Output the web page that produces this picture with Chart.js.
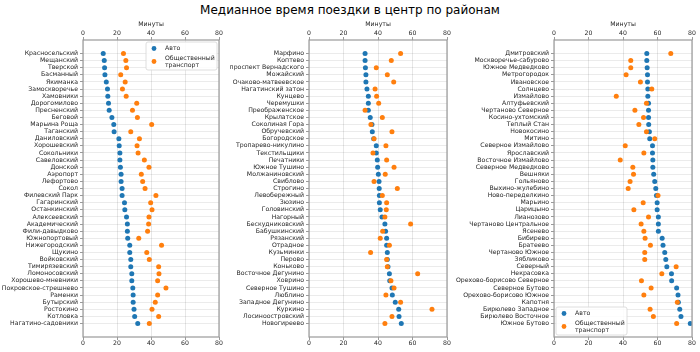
<!DOCTYPE html>
<html lang="ru">
<head>
<meta charset="UTF-8">
<title>Медианное время поездки в центр по районам</title>
<style>
    body { margin: 0; background: #fff; }
    #wrap { position: relative; width: 700px; height: 352px; font-family: "DejaVu Sans", sans-serif; }
    #title { position: absolute; left: 0; top: 3px; width: 700px; text-align: center; font-size: 12px; line-height: 14px; color: #000; }
    canvas { position: absolute; top: 0; }
</style>
<script src="https://cdn.jsdelivr.net/npm/chart.js"></script>
</head>
<body>
<div id="wrap">
    <div id="title">Медианное время поездки в центр по районам</div>
    <canvas id="c1" width="228" height="352" style="left:0px"></canvas>
    <canvas id="c2" width="230" height="352" style="left:226px"></canvas>
    <canvas id="c3" width="250" height="352" style="left:450px"></canvas>
</div>
<script>
// left panel
const names1 = ['Красносельский','Мещанский','Тверской','Басманный','Якиманка','Замоскворечье','Хамовники','Дорогомилово','Пресненский','Беговой','Марьина Роща','Таганский','Даниловский','Хорошевский','Сокольники','Савеловский','Донской','Аэропорт','Лефортово','Сокол','Филевский Парк','Гагаринский','Останкинский','Алексеевский','Академический','Фили-давыдково','Южнопортовый','Нижегородский','Щукино','Войковский','Тимирязевский','Ломоносовский','Хорошево-мневники','Покровское-стрешнево','Раменки','Бутырский','Ростокино','Котловка','Нагатино-садовники'];
const car1 = [11.9,12.5,12.7,12.9,13.7,14.4,14.6,15.0,15.4,17.0,18.1,18.3,21.1,21.3,21.7,21.7,22.0,22.4,22.4,23.0,23.0,24.4,24.6,25.6,26.1,26.1,26.3,27.5,27.5,28.1,28.1,28.7,28.7,29.3,29.5,29.5,30.0,30.4,32.2];
const transit1 = [23.8,25.2,25.6,22.2,24.8,23.2,25.4,31.6,29.1,32.0,40.4,28.1,33.2,31.8,32.4,36.1,38.8,34.3,35.1,36.5,42.9,39.8,40.6,38.8,38.6,38.0,32.8,46.2,37.5,39.0,44.5,44.7,43.9,48.8,43.9,42.5,40.6,44.5,39.0];

// middle panel
const names2 = ['Марфино','Коптево','проспект Вернадского','Можайский','Очаково-матвеевское','Нагатинский затон','Кунцево','Черемушки','Преображенское','Крылатское','Соколиная Гора','Обручевский','Богородское','Тропарево-никулино','Текстильщики','Печатники','Южное Тушино','Молжаниновский','Свиблово','Строгино','Левобережный','Зюзино','Головинский','Нагорный','Бескудниковский','Бабушкинский','Рязанский','Отрадное','Кузьминки','Перово','Коньково','Восточное Дегунино','Ховрино','Северное Тушино','Люблино','Западное Дегунино','Куркино','Лосиноостровский','Новогиреево'];
const car2 = [32.5,32.5,32.7,33.0,33.0,33.6,34.4,34.4,34.4,35.5,36.5,36.7,37.5,39.0,39.0,39.6,39.8,40.2,40.6,40.7,40.8,40.8,41.3,42.3,44.0,44.4,45.0,45.0,45.4,45.4,45.8,46.6,46.8,48.1,48.3,50.0,52.0,52.2,53.5];
const transit2 = [53.1,47.7,39.0,45.4,49.1,38.3,39.2,40.4,32.5,42.5,35.9,48.1,37.7,44.6,37.1,45.0,49.3,44.2,37.7,51.2,42.5,45.0,44.8,44.0,58.9,42.7,41.3,46.6,35.7,45.0,45.4,63.0,47.5,49.3,44.6,53.1,71.3,48.1,44.0];

// right panel
const names3 = ['Дмитровский','Москворечье-сабурово','Южное Медведково','Метрогородок','Ивановское','Солнцево','Измайлово','Алтуфьевский','Чертаново Северное','Косино-ухтомский','Теплый Стан','Новокосино','Митино','Северное Измайлово','Ярославский','Восточное Измайлово','Северное Медведково','Вешняки','Гольяново','Выхино-жулебино','Ново-переделкино','Марьино','Царицыно','Лианозово','Чертаново Центральное','Ясенево','Бибирево','Братеево','Чертаново Южное','Зябликово','Северный','Некрасовка','Орехово-борисово Северное','Северное Бутово','Орехово-борисово Южное','Капотня','Бирюлево Западное','Бирюлево Восточное','Южное Бутово'];
const car3 = [53.8,53.8,54.0,54.2,54.2,54.4,54.4,54.8,54.8,54.8,54.9,55.3,55.5,57.1,57.1,57.3,57.3,57.8,58.4,59.0,59.4,59.8,59.8,60.5,60.5,60.5,62.7,63.2,64.2,64.8,65.4,68.1,68.2,71.1,71.9,72.1,72.9,73.6,79.0];
const transit3 = [67.7,44.5,44.5,41.8,50.1,56.7,36.1,53.6,46.9,51.9,49.2,53.6,58.4,41.3,52.1,38.4,45.7,46.1,44.1,43.0,60.3,51.7,46.3,54.8,50.5,52.1,52.8,55.9,52.6,52.6,70.8,62.5,50.7,56.3,52.1,71.5,55.7,57.6,71.1];

const seriesNames = ['Авто', 'Общественный транспорт'];
const xTicks = [0, 20, 40, 60, 80];
const xTitle = 'Минуты';

const BLUE = '#1f77b4', ORANGE = '#ff7f0e';
const SPINE = '#9a9a9a';

Chart.defaults.font.family = '"DejaVu Sans", sans-serif';
Chart.defaults.font.size = 6.2;
Chart.defaults.color = '#262626';

// frame around the plot area + legend drawn inside it
const framePlugin = {
    id: 'frame',
    afterDatasetsDraw(chart, args, opts) {
        const a = chart.chartArea, ctx = chart.ctx;
        ctx.save();
        ctx.strokeStyle = SPINE;
        ctx.lineWidth = 1.2;
        ctx.strokeRect(a.left, a.top, a.right - a.left, a.bottom - a.top);
        ctx.restore();
    },
    afterDraw(chart, args, opts) {
        if (!opts.legend) return;
        const a = chart.chartArea, ctx = chart.ctx;
        const w = 71, h = 28;
        const x = opts.legend === 'tr' ? a.right - 2 - w : a.left + 2;
        const y = opts.legend === 'tr' ? a.top + 2 : a.bottom - 2 - h;
        ctx.save();
        ctx.beginPath();
        ctx.roundRect(x, y, w, h, 2);
        ctx.fillStyle = 'rgba(255,255,255,0.85)';
        ctx.fill();
        ctx.strokeStyle = '#d6d6d6';
        ctx.lineWidth = 0.8;
        ctx.stroke();
        [[BLUE, 6.5], [ORANGE, 19.5]].forEach(([c, dy]) => {
            ctx.beginPath();
            ctx.arc(x + 8, y + dy, 2.4, 0, Math.PI * 2);
            ctx.fillStyle = c;
            ctx.fill();
        });
        ctx.fillStyle = '#262626';
        ctx.font = '6.2px "DejaVu Sans", sans-serif';
        ctx.textBaseline = 'middle';
        ctx.fillText(seriesNames[0], x + 19, y + 6.5);
        const parts = seriesNames[1].split(' ');
        ctx.fillText(parts[0], x + 19, y + 16.5);
        ctx.fillText(parts[1], x + 19, y + 23);
        ctx.restore();
    }
};

function makeChart(id, names, car, transit, axisWidth, padRight, legend) {
    const toPoints = vals => vals.map((v, i) => ({x: v, y: i}));
    return new Chart(document.getElementById(id), {
        type: 'scatter',
        data: {
            datasets: [
                {label: seriesNames[0], data: toPoints(car), backgroundColor: BLUE, pointRadius: 2.5, borderWidth: 0, order: 1},
                {label: seriesNames[1], data: toPoints(transit), backgroundColor: ORANGE, pointRadius: 2.5, borderWidth: 0, order: 0}
            ]
        },
        options: {
            responsive: false,
            animation: false,
            layout: {padding: {left: 0, right: padRight, top: 0, bottom: 0}},
            plugins: {
                legend: {display: false},
                tooltip: {enabled: false},
                frame: {legend: legend}
            },
            scales: {
                x: {
                    type: 'linear',
                    position: 'top',
                    min: 0, max: 80,
                    afterBuildTicks: axis => { axis.ticks = xTicks.map(v => ({value: v})); },
                    afterFit: axis => { axis.height = 40; },
                    ticks: {padding: 0},
                    border: {display: false},
                    grid: {color: 'rgba(0,0,0,0.12)', lineWidth: 0.8, borderDash: [3, 2], tickLength: 3,
                           tickColor: SPINE, tickBorderDash: [], tickWidth: 1},
                    title: {display: true, text: xTitle, padding: {top: 21, bottom: 0}, font: {size: 6.2}}
                },
                x2: {
                    type: 'linear',
                    position: 'bottom',
                    min: 0, max: 80,
                    afterBuildTicks: axis => { axis.ticks = xTicks.map(v => ({value: v})); },
                    afterFit: axis => { axis.height = 15; },
                    ticks: {padding: 0},
                    border: {display: false},
                    grid: {drawOnChartArea: false, tickLength: 3, tickColor: SPINE, tickWidth: 1}
                },
                y: {
                    type: 'linear',
                    reverse: true,
                    min: -1.9, max: names.length - 1 + 1.9,
                    afterBuildTicks: axis => { axis.ticks = names.map((_, i) => ({value: i})); },
                    afterFit: axis => { axis.width = axisWidth; },
                    ticks: {autoSkip: false, padding: 2, callback: v => names[v]},
                    border: {display: false},
                    grid: {color: 'rgba(0,0,0,0.10)', lineWidth: 0.8, borderDash: [2, 2], tickLength: 3,
                           tickColor: SPINE, tickBorderDash: [], tickWidth: 1}
                }
            }
        },
        plugins: [framePlugin]
    });
}

makeChart('c1', names1, car1, transit1, 83, 9, 'tr');
makeChart('c2', names2, car2, transit2, 83, 9, null);
makeChart('c3', names3, car3, transit3, 104, 8, 'bl');
</script>
</body>
</html>
